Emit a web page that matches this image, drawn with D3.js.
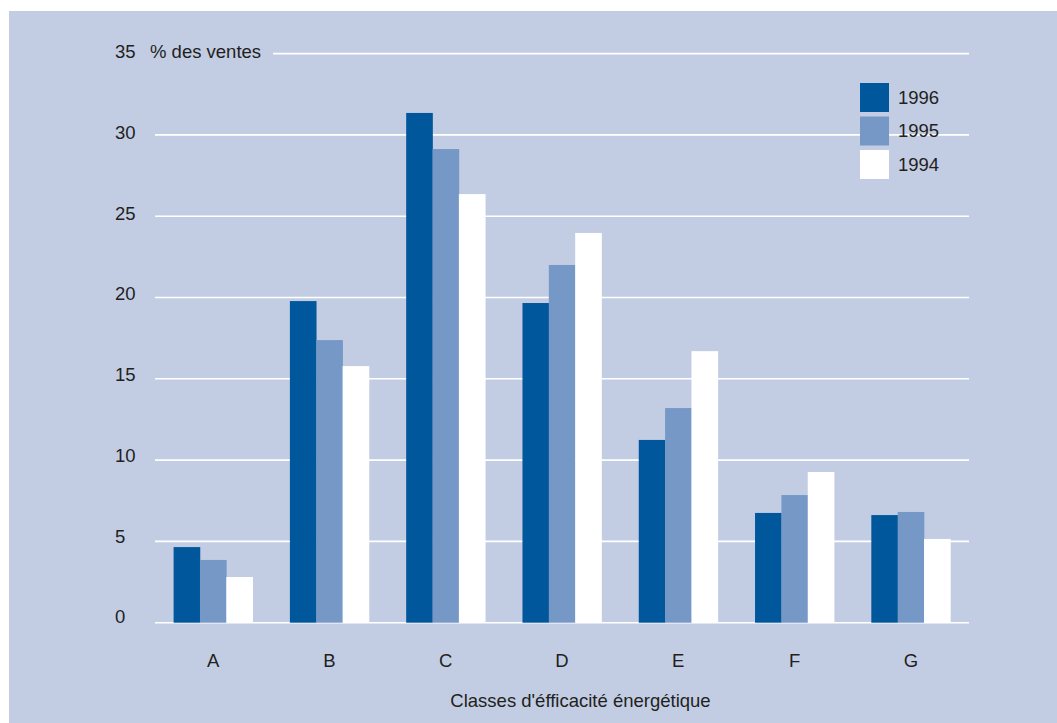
<!DOCTYPE html>
<html>
<head>
<meta charset="utf-8">
<script src="https://cdn.jsdelivr.net/npm/d3@7"></script>
<style>
  html, body { margin: 0; padding: 0; background: #ffffff; }
  svg { display: block; }
  text { font-family: "Liberation Sans", Arial, Helvetica, sans-serif; fill: #231f20; }
</style>
</head>
<body>
<svg id="chart" width="1057" height="723"></svg>
<script>
// Energy efficiency classes and share of sales (%) per year
const categories = ["A", "B", "C", "D", "E", "F", "G"];
const years = ["1996", "1995", "1994"];
const values1996 = [4.65, 19.78, 31.35, 19.66, 11.24, 6.75, 6.62];
const values1995 = [3.86, 17.38, 29.13, 22.0, 13.2, 7.85, 6.81];
const values1994 = [2.81, 15.78, 26.36, 23.97, 16.7, 9.27, 5.15];
const yTicks = [0, 5, 10, 15, 20, 25, 30, 35];
const yAxisTitle = "% des ventes";
const xAxisTitle = "Classes d'éfficacité énergétique";

const seriesValues = { "1996": values1996, "1995": values1995, "1994": values1994 };
const colors = { "1996": "#00579b", "1995": "#7598c6", "1994": "#ffffff" };

const W = 1057, H = 723;
const svg = d3.select("#chart");
const fontSize = "18.5px";

// panel background
svg.append("rect")
  .attr("x", 9).attr("y", 11)
  .attr("width", W - 9).attr("height", H - 11)
  .attr("fill", "#c2cde4");

const plot = { left: 155, right: 969, top: 53.6, bottom: 622.7 };

const x = d3.scaleBand()
  .domain(categories)
  .range([plot.left, plot.right])
  .paddingInner(0.32)
  .paddingOuter(0.16);

const xInner = d3.scaleBand()
  .domain(years)
  .range([0, x.bandwidth()])
  .padding(0);

const y = d3.scaleLinear()
  .domain([0, 35])
  .range([plot.bottom, plot.top]);

// horizontal gridlines
const grid = svg.append("g");
grid.selectAll("line")
  .data(yTicks)
  .join("line")
  .attr("x1", d => d === 35 ? 273 : plot.left)
  .attr("x2", plot.right)
  .attr("y1", d => y(d))
  .attr("y2", d => y(d))
  .attr("stroke", "#ffffff")
  .attr("stroke-width", 1.6);

// y tick labels
svg.append("g").selectAll("text")
  .data(yTicks)
  .join("text")
  .attr("x", 115)
  .attr("y", d => y(d) + 0.6 + d * 0.11)
  .attr("font-size", fontSize)
  .text(d => d);

svg.append("text")
  .attr("x", 150)
  .attr("y", y(35) + 4.5)
  .attr("font-size", fontSize)
  .text(yAxisTitle);

// grouped bars
const rows = categories.map((c, i) => ({
  cat: c,
  bars: years.map(yr => ({ year: yr, value: seriesValues[yr][i] }))
}));

const groups = svg.append("g").selectAll("g")
  .data(rows)
  .join("g")
  .attr("transform", d => `translate(${x(d.cat)},0)`);

groups.selectAll("rect")
  .data(d => d.bars)
  .join("rect")
  .attr("x", d => xInner(d.year))
  .attr("width", xInner.bandwidth() + 0.3)
  .attr("y", d => y(d.value))
  .attr("height", d => y(0) - y(d.value))
  .attr("fill", d => colors[d.year]);

// category labels
svg.append("g").selectAll("text")
  .data(categories)
  .join("text")
  .attr("x", d => x(d) + x.bandwidth() / 2)
  .attr("y", 667)
  .attr("text-anchor", "middle")
  .attr("font-size", fontSize)
  .text(d => d);

svg.append("text")
  .attr("x", 580.5)
  .attr("y", 707)
  .attr("text-anchor", "middle")
  .attr("font-size", fontSize)
  .text(xAxisTitle);

// legend
const legendY = d3.scalePoint().domain(years).range([83, 150]);
const legend = svg.append("g").selectAll("g")
  .data(years)
  .join("g")
  .attr("transform", d => `translate(860,${legendY(d)})`);

legend.append("rect")
  .attr("width", 29).attr("height", 29)
  .attr("fill", d => colors[d]);

legend.append("text")
  .attr("x", 38)
  .attr("y", 14.5)
  .attr("dy", "0.35em")
  .attr("font-size", fontSize)
  .text(d => d);
</script>
</body>
</html>
